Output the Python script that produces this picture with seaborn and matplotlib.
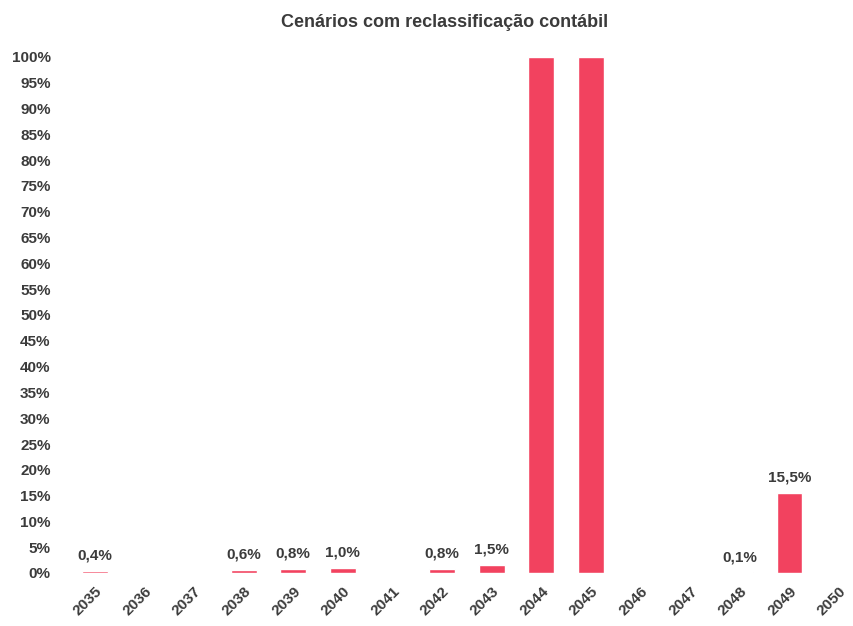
import matplotlib
matplotlib.use('Agg')
import matplotlib.pyplot as plt
import seaborn as sns
import pandas as pd

sns.set_style('white')
plt.rcParams['font.family'] = ['Liberation Sans', 'DejaVu Sans']

# ===== DATA =====
years = [str(y) for y in range(2035, 2051)]
values = [0.4, 0, 0, 0.6, 0.8, 1.0, 0, 0.8, 1.5, 100, 100, 0, 0, 0.1, 15.5, 0]
labels = ['0,4%', '', '', '0,6%', '0,8%', '1,0%', '', '0,8%', '1,5%', '', '', '', '', '0,1%', '15,5%', '']
yticks = list(range(0, 101, 5))

df = pd.DataFrame({'ano': years, 'valor': values})

BAR = '#F2425F'
TXT = '#3b3b3b'

fig = plt.figure(figsize=(8.54, 6.26), dpi=100)
ax = fig.add_axes([70 / 854, 53 / 626, 784 / 854, 516 / 626])
sns.barplot(data=df, x='ano', y='valor', color=BAR, width=0.52, ax=ax, saturation=1)

for i, (v, lab) in enumerate(zip(values, labels)):
    if lab:
        ax.annotate(lab, (i, v), xytext=(0, 6), textcoords='offset points',
                    ha='center', va='bottom', fontsize=11, fontweight='bold', color=TXT)

ax.set_ylim(0, 100)
ax.set_xlim(-0.5, 15.3)
ax.set_yticks(yticks)
ax.set_yticklabels([f'{t}%' for t in yticks], fontsize=11, fontweight='bold', color=TXT)
ax.set_xticks(range(len(years)))
ax.set_xticklabels(years, rotation=45, ha='right', rotation_mode='anchor',
                   fontsize=11, fontweight='bold', color=TXT)
ax.tick_params(axis='y', length=0, pad=14)
ax.tick_params(axis='x', length=0, pad=8)
ax.set_xlabel('')
ax.set_ylabel('')
sns.despine(ax=ax, left=True, bottom=True)

fig.suptitle('Cenários com reclassificação contábil', x=0.52, y=0.978,
             fontsize=13, fontweight='bold', color=TXT)

plt.savefig('out.png', dpi=100)
plt.close()
